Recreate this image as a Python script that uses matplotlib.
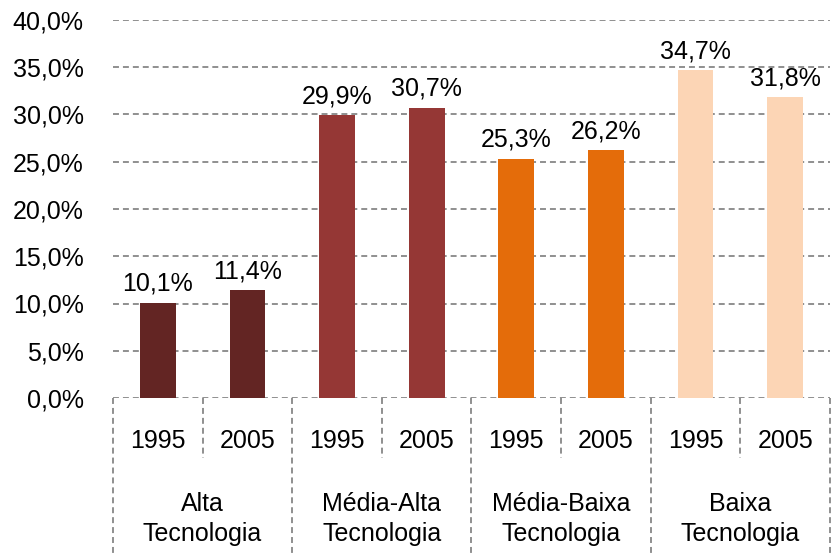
import matplotlib.pyplot as plt

groups = ["Alta\nTecnologia", "Média-Alta\nTecnologia", "Média-Baixa\nTecnologia", "Baixa\nTecnologia"]
years = ["1995", "2005"]
values = [10.1, 11.4, 29.9, 30.7, 25.3, 26.2, 34.7, 31.8]
colors = ["#632523", "#632523", "#953735", "#953735", "#E46C0A", "#E46C0A", "#FCD5B5", "#FCD5B5"]
yticks = [0, 5, 10, 15, 20, 25, 30, 35, 40]

plt.rcParams["font.family"] = ["Liberation Sans", "DejaVu Sans"]
FS = 18
GRID = "#878787"

W, H = 837, 555
fig = plt.figure(figsize=(W / 100, H / 100), dpi=100)
left, right, top, bottom = 113, 830, 20, 398
ax = fig.add_axes([left / W, 1 - bottom / H, (right - left) / W, (bottom - top) / H])

x = list(range(len(values)))
ax.bar(x, values, width=0.4, color=colors, zorder=3)
for xi, v in zip(x, values):
    ax.annotate(f"{v:.1f}%".replace(".", ","), (xi, v), xytext=(0, 5), textcoords="offset points",
                ha="center", va="bottom", fontsize=FS)

ax.set_xlim(-0.5, len(values) - 0.5)
ax.set_ylim(0, 40)
ax.set_yticks(yticks)
ax.set_yticklabels([f"{t:.1f}%".replace(".", ",") for t in yticks], fontsize=FS)
ax.tick_params(axis="y", length=0, pad=21)
ax.set_xticks([])
for s in ax.spines.values():
    s.set_visible(False)

dash = dict(color=GRID, lw=1.3, dashes=(3.3, 2.2))
for t in yticks:
    ax.axhline(t, zorder=1, **dash)

# category axis below the plot
def fy(py):
    return (bottom - py) / (bottom - top)

tr = ax.get_xaxis_transform()
for i in range(len(values) + 1):
    xb = i - 0.5
    y_end = fy(H) if i % 2 == 0 else fy(458)
    ax.plot([xb, xb], [0, y_end], transform=tr, clip_on=False, zorder=4, **dash)

for i in range(len(values)):
    ax.text(i, fy(441), years[i % 2], transform=tr, ha="center", va="center", fontsize=FS)
for g, name in enumerate(groups):
    ax.text(2 * g + 0.5, fy(519), name, transform=tr, ha="center", va="center",
            fontsize=FS, linespacing=1.35)

fig.savefig("out.png", dpi=100)
